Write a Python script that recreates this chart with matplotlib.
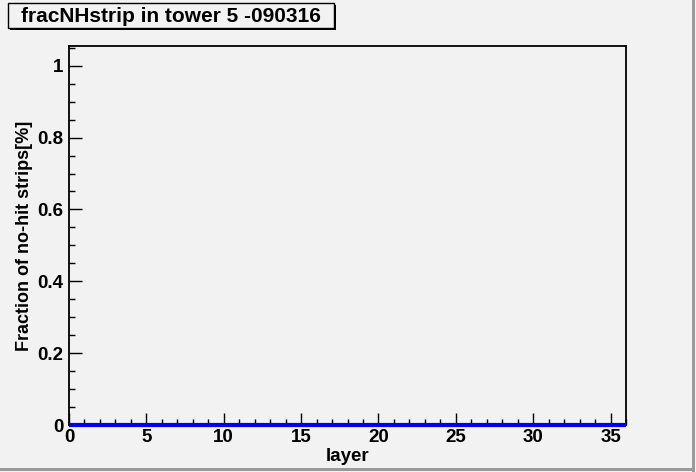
import numpy as np
import matplotlib.pyplot as plt
from matplotlib.patches import Rectangle
from matplotlib.ticker import MultipleLocator

# layer bins and fraction of no-hit strips (all zero)
layer_edges = list(range(0, 37))
frac_nohit = [0.0] * 36

title = "fracNHstrip in tower 5 -090316"
xlabel = "layer"
ylabel = "Fraction of no-hit strips[%]"

bg = "#f2f2f2"
plt.rcParams['font.family'] = ['Liberation Sans', 'DejaVu Sans']
plt.rcParams['font.weight'] = 'bold'

fig = plt.figure(figsize=(6.96, 4.72), dpi=100, facecolor=bg)
W, H = 696, 472

# canvas frame shadow (right and bottom)
fig.add_artist(Rectangle((1 - 4 / W, 0), 3 / W, 1, transform=fig.transFigure, color='#9a9a9a', lw=0))
fig.add_artist(Rectangle((0, 1 / H), 1 - 1 / W, 3 / H, transform=fig.transFigure, color='#9a9a9a', lw=0))

ax = fig.add_axes([69 / W, 47 / H, (626 - 69) / W, (425 - 46) / H])
ax.set_facecolor(bg)
ax.stairs(frac_nohit, layer_edges, color='#0000ee', lw=3, baseline=None,
          clip_on=False, zorder=5)

ax.set_xlim(0, 36)
ax.set_ylim(0, 1.055)
ax.xaxis.set_major_locator(MultipleLocator(5))
ax.xaxis.set_minor_locator(MultipleLocator(1))
ax.yaxis.set_major_locator(MultipleLocator(0.2))
ax.yaxis.set_minor_locator(MultipleLocator(0.05))
ax.tick_params(which='both', direction='in', top=False, right=False,
               labelsize=13.5, width=1, color='black')
ax.tick_params(which='major', length=9)
ax.tick_params(which='minor', length=4.5)
ax.tick_params(axis='x', pad=3)
ax.tick_params(axis='y', pad=4)
ax.xaxis.set_major_formatter(plt.FuncFormatter(lambda v, p: f"{v:g}"))
ax.yaxis.set_major_formatter(plt.FuncFormatter(lambda v, p: f"{v:g}"))
for s in ax.spines.values():
    s.set_linewidth(1.3)

ax.set_xlabel(xlabel, fontsize=13.5, fontweight='bold', labelpad=1)
ax.set_ylabel(ylabel, fontsize=13, fontweight='bold', va='center')
ax.yaxis.set_label_coords(-0.079, 0.5)

# title box with shadow
tx0, ty0, tw, th = 8, 3, 326, 25
fig.add_artist(Rectangle(((tx0 + 2) / W, 1 - (ty0 + th + 2) / H), tw / W, th / H,
                         transform=fig.transFigure, color='black', lw=0))
fig.add_artist(Rectangle((tx0 / W, 1 - (ty0 + th) / H), tw / W, th / H,
                         transform=fig.transFigure, facecolor=bg, edgecolor='black', lw=1))
fig.text((tx0 + tw / 2) / W, 1 - (ty0 + th / 2 + 1) / H, title, ha='center', va='center',
         fontsize=15, fontweight='bold')

fig.savefig("out.png", dpi=100, facecolor=bg)
